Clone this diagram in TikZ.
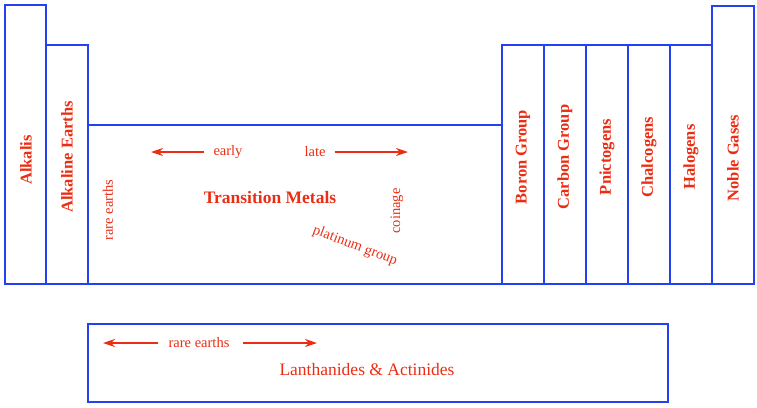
\documentclass[tikz,border=0pt]{standalone}
\usepackage{fontspec}
\setmainfont{Liberation Serif}
\usetikzlibrary{arrows.meta}
\definecolor{boxblue}{RGB}{35,65,240}
\definecolor{txtred}{RGB}{235,45,20}
\begin{document}
\begin{tikzpicture}[x=1pt,y=-1pt,
  groupbox/.style={draw=boxblue,line width=1.4pt},
  biglabel/.style={text=txtred,font=\bfseries\fontsize{16.5}{19}\selectfont,inner sep=0pt},
  vlabel/.style={biglabel,rotate=90},
  smalllabel/.style={text=txtred,font=\fontsize{14.5}{17}\selectfont,inner sep=0pt},
  midlabel/.style={text=txtred,font=\fontsize{17.5}{20}\selectfont,inner sep=0pt},
  redarrow/.style={draw=txtred,line width=1.3pt,-{Stealth[length=12pt,width=8pt]}}]
\useasboundingbox (0,0) rectangle (757,407);
% boxes
\draw[groupbox] (5,5) rectangle (46,284);
\draw[groupbox] (46,45) rectangle (88,284);
\draw[groupbox] (88,125) rectangle (502,284);
\draw[groupbox] (502,45) rectangle (544,284);
\draw[groupbox] (544,45) rectangle (586,284);
\draw[groupbox] (586,45) rectangle (628,284);
\draw[groupbox] (628,45) rectangle (670,284);
\draw[groupbox] (670,45) rectangle (712,284);
\draw[groupbox] (712,6) rectangle (754,284);
\draw[groupbox] (88,324) rectangle (668,402);
% group labels
\node[vlabel] (alk) at (26,160) {Alkalis};
\node[vlabel] (alke) at (67,157) {Alkaline Earths};
\node[vlabel] (boron) at (523,157) {Boron Group};
\node[vlabel] (carbon) at (565,157) {Carbon Group};
\node[vlabel] (pnic) at (607,157) {Pnictogens};
\node[vlabel] (chal) at (649,157) {Chalcogens};
\node[vlabel] (halo) at (691,157) {Halogens};
\node[vlabel] (noble) at (733,158) {Noble Gases};
% transition metals
\node[biglabel,font=\bfseries\fontsize{17.5}{20}\selectfont] (tm) at (270,198) {Transition Metals};
\node[smalllabel] (early) at (228,152) {early};
\node[smalllabel] (late) at (315,152) {late};
\coordinate (earlyend) at (151,152);
\coordinate (lateend) at (408,152);
\draw[redarrow] (early.west) ++(-9,0) -- (earlyend);
\draw[redarrow] (late.east) ++(9,0) -- (lateend);
\node[smalllabel,rotate=90] (re1) at (108,210) {rare earths};
\node[smalllabel,rotate=90] (coin) at (397,211) {coinage};
\node[smalllabel,rotate=-21] (plat) at (355,246) {platinum group};
% lanthanides
\node[midlabel] (lan) at (367,370) {Lanthanides \& Actinides};
\node[smalllabel] (re2) at (199,343) {rare earths};
\coordinate (releft) at (103,343);
\coordinate (reright) at (317,343);
\draw[redarrow] (re2.west) ++(-10,0) -- (releft);
\draw[redarrow] (re2.east) ++(13,0) -- (reright);
\end{tikzpicture}
\end{document}
